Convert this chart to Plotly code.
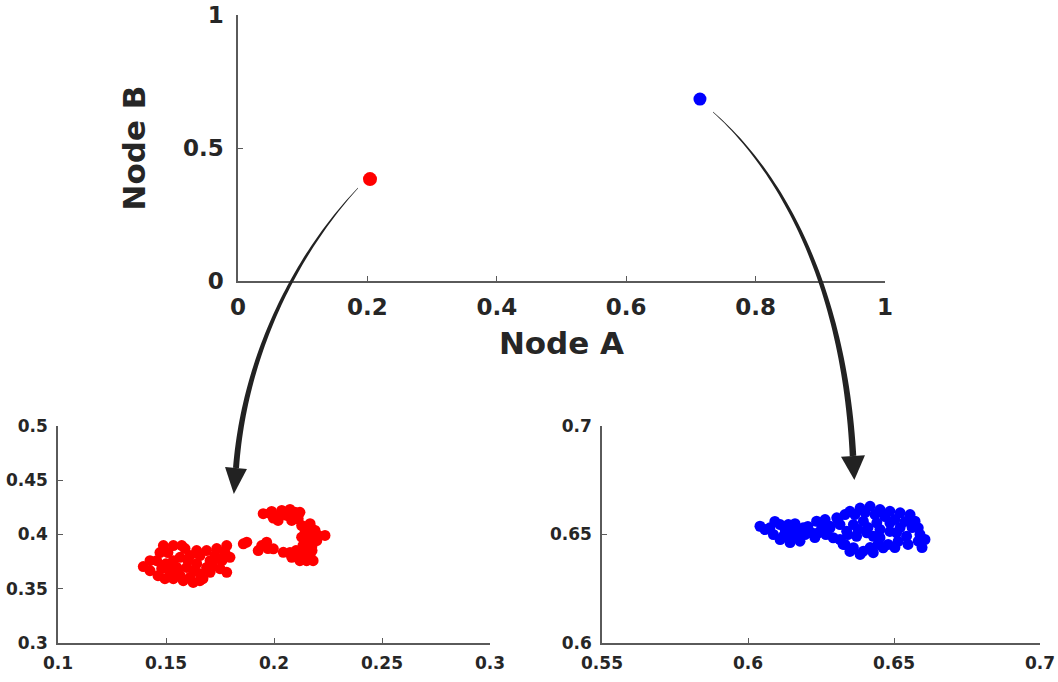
import plotly.graph_objects as go
import numpy as np

# ---------------- data ----------------
main_red_x = [0.204]
main_red_y = [0.383]
main_blue_x = [0.714]
main_blue_y = [0.684]

red_x = [0.1395, 0.1457, 0.1480, 0.1488, 0.1534, 0.1573, 0.1519, 0.1565, 0.1611, 0.1657,
         0.1704, 0.1750, 0.1781, 0.1796, 0.1781, 0.1735, 0.1688, 0.1642, 0.1611, 0.1565,
         0.1534, 0.1550, 0.1596, 0.1642, 0.1704, 0.1735, 0.1688, 0.1580, 0.1626, 0.1534,
         0.1671, 0.1500,
         0.1426, 0.1463, 0.1495, 0.1509, 0.1588, 0.1657, 0.1727, 0.1759, 0.1634, 0.1602,
         0.1556, 0.1509, 0.1713, 0.1426, 0.1657, 0.1773, 0.1472,
         0.1950, 0.1989, 0.1997, 0.2036, 0.2074, 0.2097, 0.2059, 0.2082, 0.2112, 0.2128,
         0.2167, 0.2175, 0.2144, 0.2128, 0.2167, 0.2236, 0.2198, 0.2159, 0.2151, 0.2167,
         0.2151, 0.2120, 0.2082, 0.2043, 0.1997, 0.1966, 0.1927, 0.1943, 0.1874, 0.1858,
         0.2028, 0.2120, 0.2144, 0.2190, 0.2204, 0.2176, 0.2134, 0.2176, 0.2181, 0.2120,
         0.2102, 0.2074, 0.1972, 0.2019, 0.1981]
red_y = [0.3704, 0.3759, 0.3685, 0.3898, 0.3898, 0.3898, 0.3651, 0.3620, 0.3605, 0.3639,
         0.3651, 0.3685, 0.3651, 0.3790, 0.3898, 0.3870, 0.3852, 0.3852, 0.3806, 0.3790,
         0.3759, 0.3697, 0.3697, 0.3731, 0.3759, 0.3778, 0.3697, 0.3574, 0.3558, 0.3593,
         0.3593, 0.3730,
         0.3667, 0.3620, 0.3593, 0.3833, 0.3870, 0.3806, 0.3806, 0.3759, 0.3667, 0.3759,
         0.3648, 0.3713, 0.3713, 0.3759, 0.3574, 0.3833, 0.3833,
         0.4192, 0.4213, 0.4151, 0.4222, 0.4231, 0.4206, 0.4176, 0.4130, 0.4145, 0.4083,
         0.4099, 0.4053, 0.4021, 0.3975, 0.3991, 0.3991, 0.3944, 0.3914, 0.3852, 0.3806,
         0.3759, 0.3806, 0.3790, 0.3836, 0.3868, 0.3929, 0.3852, 0.3898, 0.3929, 0.3914,
         0.4176, 0.4204, 0.4056, 0.4037, 0.3991, 0.3898, 0.3898, 0.3852, 0.3759, 0.3759,
         0.3852, 0.3833, 0.3870, 0.4130, 0.4194]

blue_x = [0.6041, 0.6075, 0.6087, 0.6110, 0.6138, 0.6161, 0.6189, 0.6121, 0.6150, 0.6178,
          0.6218, 0.6241, 0.6235, 0.6264, 0.6281,
          0.6058, 0.6092, 0.6127, 0.6151, 0.6171, 0.6195, 0.6110, 0.6144, 0.6205, 0.6253,
          0.6229, 0.6267, 0.6161,
          0.6304, 0.6281, 0.6292, 0.6326, 0.6361, 0.6395, 0.6429, 0.6463, 0.6480, 0.6452,
          0.6429, 0.6407, 0.6349, 0.6384, 0.6418, 0.6452, 0.6486, 0.6521, 0.6555, 0.6572,
          0.6583, 0.6583, 0.6543, 0.6509, 0.6361, 0.6395, 0.6441, 0.6486, 0.6338, 0.6372,
          0.6315, 0.6332, 0.6366, 0.6401, 0.6435, 0.6469, 0.6503, 0.6538, 0.6562, 0.6548,
          0.6514, 0.6315, 0.6342, 0.6377, 0.6411, 0.6452, 0.6486, 0.6349, 0.6384, 0.6418,
          0.6445, 0.6503, 0.6589, 0.6606, 0.6596, 0.6521, 0.6332, 0.6308]
blue_y = [0.6538, 0.6531, 0.6500, 0.6546, 0.6546, 0.6550, 0.6531, 0.6492, 0.6492, 0.6469,
          0.6508, 0.6508, 0.6561, 0.6569, 0.6538,
          0.6523, 0.6560, 0.6523, 0.6532, 0.6500, 0.6500, 0.6477, 0.6463, 0.6537, 0.6532,
          0.6486, 0.6500, 0.6523,
          0.6577, 0.6531, 0.6485, 0.6454, 0.6439, 0.6423, 0.6416, 0.6439, 0.6454, 0.6485,
          0.6492, 0.6508, 0.6607, 0.6622, 0.6630, 0.6615, 0.6607, 0.6600, 0.6592, 0.6561,
          0.6531, 0.6469, 0.6492, 0.6508, 0.6546, 0.6561, 0.6554, 0.6554, 0.6515, 0.6492,
          0.6546, 0.6592, 0.6592, 0.6601, 0.6592, 0.6583, 0.6569, 0.6560, 0.6532, 0.6454,
          0.6468, 0.6477, 0.6500, 0.6523, 0.6532, 0.6523, 0.6514, 0.6422, 0.6408, 0.6440,
          0.6454, 0.6440, 0.6500, 0.6477, 0.6440, 0.6532, 0.6454, 0.6569]

main_xticks = [0, 0.2, 0.4, 0.6, 0.8, 1]
main_xtext = ["0", "0.2", "0.4", "0.6", "0.8", "1"]
main_yticks = [0, 0.5, 1]
main_ytext = ["0", "0.5", "1"]
left_xticks = [0.1, 0.15, 0.2, 0.25, 0.3]
left_xtext = ["0.1", "0.15", "0.2", "0.25", "0.3"]
left_yticks = [0.3, 0.35, 0.4, 0.45, 0.5]
left_ytext = ["0.3", "0.35", "0.4", "0.45", "0.5"]
right_xticks = [0.55, 0.6, 0.65, 0.7]
right_xtext = ["0.55", "0.6", "0.65", "0.7"]
right_yticks = [0.6, 0.65, 0.7]
right_ytext = ["0.6", "0.65", "0.7"]

# ---------------- layout constants ----------------
W, H = 1058, 682
FONT = "DejaVu Sans"
TXT = "#262626"
AX = "#5a5a5a"

def px_x(p):
    return p / W

def px_y(p):
    return 1 - p / H

fig = go.Figure()
fig.add_trace(go.Scatter(x=main_red_x, y=main_red_y, mode="markers",
                         marker=dict(color="#ff0000", size=14), xaxis="x", yaxis="y",
                         showlegend=False, cliponaxis=False))
fig.add_trace(go.Scatter(x=main_blue_x, y=main_blue_y, mode="markers",
                         marker=dict(color="#0000ff", size=13), xaxis="x", yaxis="y",
                         showlegend=False, cliponaxis=False))
fig.add_trace(go.Scatter(x=red_x, y=red_y, mode="markers",
                         marker=dict(color="#ff0000", size=11), xaxis="x2", yaxis="y2",
                         showlegend=False))
fig.add_trace(go.Scatter(x=blue_x, y=blue_y, mode="markers",
                         marker=dict(color="#0000ff", size=11), xaxis="x3", yaxis="y3",
                         showlegend=False))

def axis(dom, rng, tv, tt, anchor, size, standoff):
    return dict(domain=dom, range=rng, tickvals=tv, ticktext=tt, anchor=anchor,
                showgrid=False, zeroline=False, showline=True, linecolor=AX, linewidth=1.5,
                ticks="inside", ticklen=5, tickcolor=AX, tickwidth=1.2, automargin=False,
                tickfont=dict(family=FONT, size=size, color=TXT, weight="bold"),
                ticklabelstandoff=standoff, mirror=False, fixedrange=True)

main_xd = [px_x(238), px_x(885)]
main_yd = [px_y(281), px_y(15)]
left_xd = [px_x(58), px_x(490)]
bot_yd = [px_y(643), px_y(426)]
right_xd = [px_x(602), px_x(1040)]

xa = axis(main_xd, [0, 1], main_xticks, main_xtext, "y", 23, 5)
xa["title"] = dict(text="Node A", font=dict(family=FONT, size=31, color=TXT, weight="bold"), standoff=13)
ya = axis(main_yd, [0, 1], main_yticks, main_ytext, "x", 23, 8)
ya["title"] = dict(text="Node B", font=dict(family=FONT, size=31, color=TXT, weight="bold"), standoff=28)

fig.update_layout(
    template="none",
    width=W, height=H, margin=dict(l=0, r=0, t=0, b=0, autoexpand=False),
    paper_bgcolor="white", plot_bgcolor="white",
    xaxis=xa, yaxis=ya,
    xaxis2=axis(left_xd, [0.1, 0.3], left_xticks, left_xtext, "y2", 17, 4),
    yaxis2=axis(bot_yd, [0.3, 0.5], left_yticks, left_ytext, "x2", 17, 5),
    xaxis3=axis(right_xd, [0.55, 0.7], right_xticks, right_xtext, "y3", 17, 4),
    yaxis3=axis(bot_yd, [0.6, 0.7], right_yticks, right_ytext, "x3", 17, 5),
)

# ---------------- curved tapered arrows (decoration, pixel space) ----------------
def bez(p0, p1, p2, p3, t):
    t = np.asarray(t)[:, None]
    return ((1 - t) ** 3) * p0 + 3 * (1 - t) ** 2 * t * p1 + 3 * (1 - t) * t ** 2 * p2 + t ** 3 * p3

def arrow_path(p0, p1, p2, p3, w0, w1, head_len, head_w):
    p0, p1, p2, p3 = (np.array(p, float) for p in (p0, p1, p2, p3))
    ts = np.linspace(0, 1, 60)
    pts = bez(p0, p1, p2, p3, ts)
    d = np.gradient(pts, axis=0)
    d /= np.linalg.norm(d, axis=1)[:, None]
    nrm = np.stack([-d[:, 1], d[:, 0]], axis=1)
    w = (w0 + (w1 - w0) * ts ** 0.8)[:, None] / 2
    left = pts + nrm * w
    right = pts - nrm * w
    poly = np.vstack([left, right[::-1]])
    def to_paper(p):
        return f"{p[0] / W:.5f},{1 - p[1] / H:.5f}"
    shaft = "M " + " L ".join(to_paper(p) for p in poly) + " Z"
    end = pts[-1]
    dirv = d[-1]
    nv = nrm[-1]
    tip = end + dirv * head_len
    b1 = end + nv * head_w / 2
    b2 = end - nv * head_w / 2
    head = f"M {to_paper(b1)} L {to_paper(tip)} L {to_paper(b2)} Z"
    return shaft, head

arrows = [
    ((358, 188), (300, 250), (245, 350), (236, 468), 0.4, 6.0, 26, 22),
    ((713, 112), (790, 180), (845, 300), (853, 456), 0.4, 6.5, 24, 24),
]
for a in arrows:
    s, h = arrow_path(*a)
    for p in (s, h):
        fig.add_shape(type="path", path=p, xref="paper", yref="paper",
                      fillcolor="#222222", line=dict(width=0), layer="above")

fig.write_html("out.html")
